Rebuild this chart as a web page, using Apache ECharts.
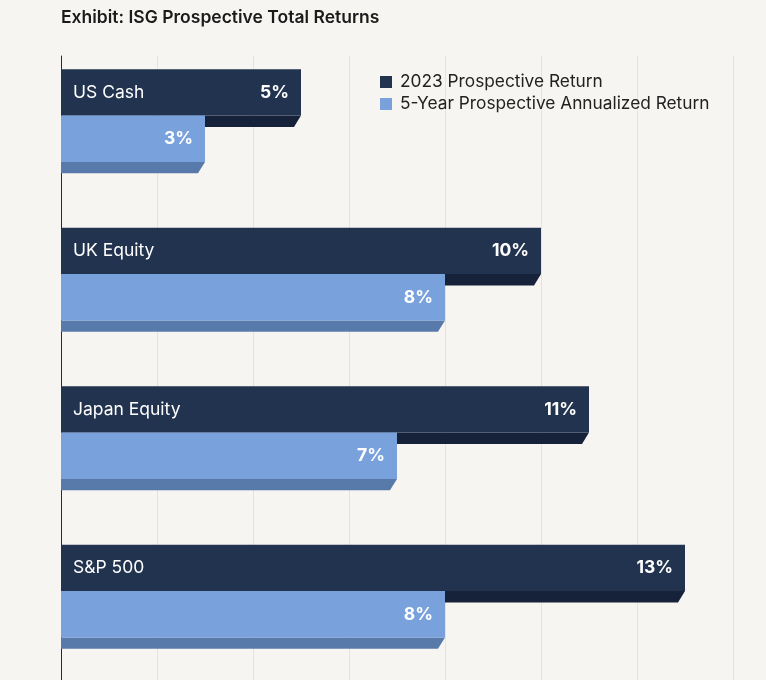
<!DOCTYPE html>
<html>
<head>
<meta charset="utf-8">
<script src="https://cdn.jsdelivr.net/npm/echarts@6/dist/echarts.min.js"></script>
<style>
  html, body { margin: 0; padding: 0; background: #f6f5f2; overflow: hidden; }
  /* taller than the window: the last band runs past the bottom edge, as in the exhibit */
  #chart { width: 766px; height: 690px; }
</style>
</head>
<body>
<div id="chart"></div>
<script>
const categories = ['US Cash', 'UK Equity', 'Japan Equity', 'S&P 500'];
const returns2023 = [5, 10, 11, 13];
const returns5y = [3, 8, 7, 8];
const seriesNames = ['2023 Prospective Return', '5-Year Prospective Annualized Return'];
const xTicks = [0, 2, 4, 6, 8, 10, 12, 14];

const FONT = 'Inter, "Noto Sans", sans-serif';
const colors = [
  { face: '#22334f', side: '#16223a' },
  { face: '#79a1db', side: '#587aab' }
];

// slot 0 = dark bar (top), slot 1 = light bar (below it)
function makeRender(slot, withName) {
  return function (params, api) {
    const val = api.value(0);
    const cat = api.value(1);
    const base = api.coord([0, cat]);
    const end = api.coord([val, cat]);
    const band = api.size([0, 1])[1];
    const h = band * 0.292;
    const top = base[1] - band * 0.416 + slot * h;
    const depth = band * 0.072;
    const slant = 7;
    const x0 = base[0], x1 = end[0];
    const c = colors[slot];
    const children = [
      {
        type: 'polygon',
        shape: { points: [[x0, top + h], [x1, top + h], [x1 - slant, top + h + depth], [x0, top + h + depth]] },
        style: { fill: c.side }
      },
      {
        type: 'rect',
        shape: { x: x0, y: top, width: x1 - x0, height: h },
        style: { fill: c.face }
      },
      {
        type: 'text',
        style: {
          text: val + '%', x: x1 - 12, y: top + h / 2,
          fill: '#ffffff', fontSize: 17.5, fontWeight: 700, fontFamily: FONT,
          align: 'right', verticalAlign: 'middle'
        }
      }
    ];
    if (withName) {
      children.push({
        type: 'text',
        style: {
          text: categories[cat], x: x0 + 12, y: top + h / 2,
          fill: '#ffffff', fontSize: 17.5, fontWeight: 400, fontFamily: FONT,
          align: 'left', verticalAlign: 'middle'
        }
      });
    }
    return { type: 'group', children: children };
  };
}

const chart = echarts.init(document.getElementById('chart'), null, { renderer: 'canvas' });
chart.setOption({
  backgroundColor: '#f6f5f2',
  animation: false,
  title: {
    text: 'Exhibit: ISG Prospective Total Returns',
    left: 61, top: 9, padding: 0,
    textStyle: { fontFamily: FONT, fontSize: 17.5, fontWeight: 600, color: '#1b1b1b' }
  },
  legend: {
    orient: 'vertical',
    left: 380, top: 72, padding: 0,
    itemWidth: 12, itemHeight: 12, itemGap: 2,
    icon: 'rect',
    textStyle: { fontFamily: FONT, fontSize: 17.3, color: '#222222', lineHeight: 20, padding: [0, 0, 0, 3] },
    data: seriesNames
  },
  grid: { left: 61, top: 56, right: 33, bottom: 0 },
  xAxis: {
    type: 'value', min: xTicks[0], max: xTicks[xTicks.length - 1], interval: 2,
    axisLabel: { show: false }, axisLine: { show: false }, axisTick: { show: false },
    splitLine: { show: true, lineStyle: { color: '#e4e3e0', width: 1 } }
  },
  yAxis: {
    type: 'category', data: categories, inverse: true,
    axisLabel: { show: false }, axisTick: { show: false },
    axisLine: { show: true, lineStyle: { color: '#2a2a2a', width: 1 } }
  },
  series: [
    {
      name: seriesNames[0], type: 'custom',
      renderItem: makeRender(0, true),
      itemStyle: { color: colors[0].face },
      encode: { x: 0, y: 1 },
      data: returns2023.map((v, i) => [v, i])
    },
    {
      name: seriesNames[1], type: 'custom',
      renderItem: makeRender(1, false),
      itemStyle: { color: colors[1].face },
      encode: { x: 0, y: 1 },
      data: returns5y.map((v, i) => [v, i])
    }
  ]
});
</script>
</body>
</html>
